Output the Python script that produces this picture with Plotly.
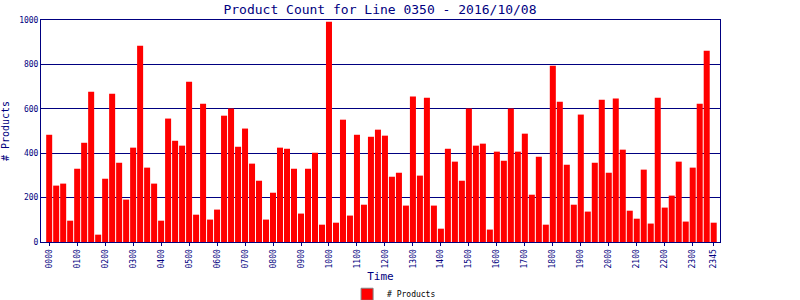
import plotly.graph_objects as go

times = [f"{h:02d}{m:02d}" for h in range(24) for m in (0, 15, 30, 45)]
products = [483, 254, 263, 96, 330, 447, 677, 33, 285, 668, 357, 191, 425, 884, 335, 263,
            96, 556, 456, 434, 722, 123, 623, 101, 146, 569, 601, 429, 511, 353, 276, 101,
            222, 425, 420, 330, 128, 330, 402, 78, 992, 87, 551, 119, 483, 168, 474, 506,
            479, 294, 312, 164, 655, 299, 650, 164, 60, 420, 362, 276, 601, 434, 443, 56,
            407, 366, 601, 407, 488, 213, 384, 78, 794, 632, 348, 168, 574, 137, 357, 641,
            312, 646, 416, 141, 105, 326, 83, 650, 155, 209, 362, 92, 335, 623, 862, 87]
tick_labels = [f"{h:02d}00" for h in range(24)] + ["2345"]
tick_idx = [times.index(t) for t in tick_labels]
y_ticks = [0, 200, 400, 600, 800, 1000]

NAVY = "#000080"
FONT = "DejaVu Sans Mono"

fig = go.Figure()
fig.add_trace(go.Bar(
    x=list(range(len(times))), y=products, name="# Products",
    marker=dict(color="#ff0000", line=dict(width=0)),
    showlegend=False,
))
# legend-only entry (red swatch with grey border, as in the reference)
fig.add_trace(go.Bar(
    x=[None], y=[None], name="# Products",
    marker=dict(color="#ff0000", line=dict(color="#808080", width=1)),
    showlegend=True,
))

fig.update_layout(
    width=800, height=300,
    margin=dict(l=41, r=80, t=20, b=58, autoexpand=False),
    paper_bgcolor="white", plot_bgcolor="white",
    barmode="overlay",
    bargap=0.14,
    title=dict(text="Product Count for Line 0350 - 2016/10/08",
               font=dict(family=FONT, size=13, color=NAVY),
               x=0.475, xanchor="center", y=0.97, yanchor="middle"),
    xaxis=dict(
        automargin=False,
        range=[-1.17, 95.9],
        tickmode="array", tickvals=tick_idx, ticktext=tick_labels,
        tickangle=-90, tickfont=dict(family=FONT, size=8, color=NAVY),
        ticks="outside", ticklen=3, tickcolor=NAVY,
        showgrid=False, zeroline=False,
        showline=True, linecolor=NAVY, linewidth=1, mirror=True,
        title=dict(text="Time", font=dict(family=FONT, size=11, color=NAVY), standoff=4),
    ),
    yaxis=dict(
        automargin=False,
        range=[0, 1000], tickvals=y_ticks,
        tickfont=dict(family=FONT, size=8, color=NAVY),
        showgrid=True, gridcolor=NAVY, gridwidth=1,
        zeroline=False, ticks="",
        showline=True, linecolor=NAVY, linewidth=1, mirror=True,
        title=dict(text="# Products", font=dict(family=FONT, size=10, color=NAVY), standoff=8),
    ),
    legend=dict(orientation="h", x=0.52, xanchor="center", y=-0.17, yanchor="top",
                font=dict(family=FONT, size=8, color="#000000"),
                itemwidth=30, tracegroupgap=0),
)

fig.write_html("out.html", config={"displayModeBar": False})
